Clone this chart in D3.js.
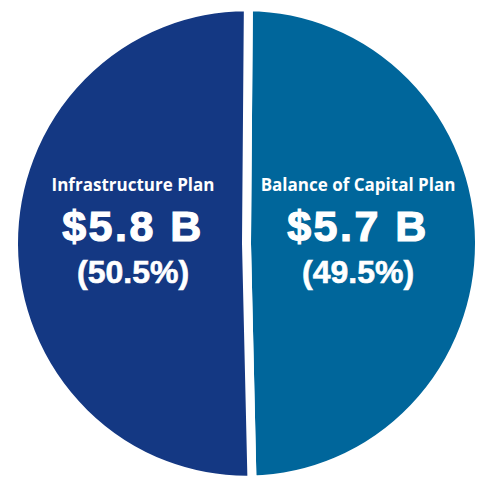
<!DOCTYPE html>
<html>
<head>
<meta charset="utf-8">
<script src="https://cdn.jsdelivr.net/npm/d3@7"></script>
<style>
  body { margin: 0; background: #fff; }
</style>
</head>
<body>
<div id="chart"></div>
<script>
var width = 479;
var height = 481;
var center = { x: 246.5, y: 243.5 };
var radius = 233;
var squash = 1.016; // the source pie is a touch taller than wide

// slices, clockwise from the top
var categories = ["Balance of Capital Plan", "Infrastructure Plan"];
var amounts = ["$5.7 B", "$5.8 B"];
var shares = [49.5, 50.5];
var colors = ["#00669b", "#143883"];
var labelX = [358, 133]; // label centres

var svg = d3.select("#chart")
    .append("svg")
    .attr("width", width)
    .attr("height", height);

var g = svg.append("g")
    .attr("transform", "translate(" + center.x + "," + center.y + ") scale(1," + squash + ")");

var pie = d3.pie()
    .sort(null)
    .startAngle(0.008)
    .endAngle(0.008 + 2 * Math.PI)
    .value(function (d) { return d; });

var arc = d3.arc()
    .innerRadius(0)
    .outerRadius(radius);

g.selectAll("path")
    .data(pie(shares))
    .enter()
    .append("path")
    .attr("d", arc)
    .attr("fill", function (d, i) { return colors[i]; })
    .attr("stroke", "#fff")
    .attr("stroke-width", 9)
    .attr("stroke-linejoin", "miter");

var labels = svg.selectAll("g.label")
    .data(categories)
    .enter()
    .append("g")
    .attr("class", "label")
    .attr("transform", function (d, i) { return "translate(" + labelX[i] + ",0)"; })
    .attr("fill", "#fff")
    .attr("text-anchor", "middle");

labels.append("text")
    .attr("y", 191)
    .attr("font-family", "'Open Sans', sans-serif")
    .attr("font-weight", 700)
    .attr("font-size", "17px")
    .text(function (d) { return d; });

labels.append("text")
    .attr("y", 241)
    .attr("font-family", "'Liberation Sans', Arial, sans-serif")
    .attr("font-weight", 700)
    .attr("font-size", "43px")
    .attr("letter-spacing", "2.5px")
    .attr("stroke", "#fff")
    .attr("stroke-width", 1.2)
    .text(function (d, i) { return amounts[i]; });

labels.append("text")
    .attr("y", 283)
    .attr("font-family", "'Liberation Sans', Arial, sans-serif")
    .attr("font-weight", 700)
    .attr("font-size", "32px")
    .attr("stroke", "#fff")
    .attr("stroke-width", 0.6)
    .text(function (d, i) { return "(" + shares[i].toFixed(1) + "%)"; });
</script>
</body>
</html>
